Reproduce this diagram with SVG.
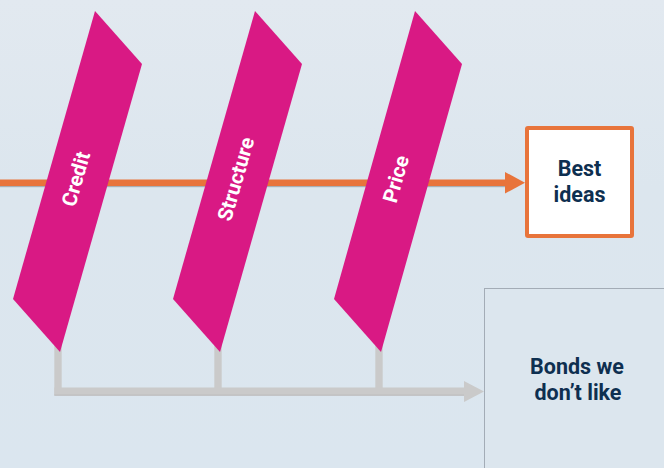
<svg xmlns="http://www.w3.org/2000/svg" width="664" height="468" viewBox="0 0 664 468">
  <defs>
    <linearGradient id="bg" x1="0" y1="0" x2="0" y2="1">
      <stop offset="0" stop-color="#e2e9f0"/>
      <stop offset="0.4" stop-color="#dce6ee"/>
      <stop offset="1" stop-color="#dbe6ef"/>
    </linearGradient>
  </defs>
  <style>
    .band { fill: #d91984; }
    .lbl { font-family: Roboto, "Liberation Sans", sans-serif; font-weight: bold; font-size: 20.5px; fill: #ffffff; text-anchor: middle; dominant-baseline: central; }
    .ttl { font-family: Roboto, "Liberation Sans", sans-serif; font-weight: bold; font-size: 21.5px; fill: #0e2f50; text-anchor: middle; }
    .grey { fill: #cacaca; }
    .orange { fill: #e8743b; }
  </style>
  <rect x="0" y="0" width="664" height="468" fill="url(#bg)"/>

  <g id="connectors">
    <rect x="0" y="186" width="505" height="1.2" fill="#a9aeb3"/>
    <rect class="orange" x="0" y="179.5" width="506" height="6.5"/>
    <polygon class="orange" points="505,172 525,182.7 505,193.5"/>
    <rect class="grey" x="54.3" y="330" width="7.4" height="65"/>
    <rect class="grey" x="214.3" y="330" width="7.4" height="65"/>
    <rect class="grey" x="375.3" y="330" width="7.4" height="65"/>
    <rect class="grey" x="54.3" y="387.5" width="410" height="8"/>
    <rect x="54.3" y="394.5" width="410" height="1.2" fill="#bdbdbd"/>
    <polygon class="grey" points="464,381 484,391.5 464,402"/>
  </g>

  <g id="credit">
    <polygon class="band" points="95,11 142,64 60,352 13,299"/>
    <text class="lbl" transform="translate(76,179) rotate(-74)">Credit</text>
  </g>
  <g id="structure">
    <polygon class="band" points="255,11 302,64 220,352 173,299"/>
    <text class="lbl" transform="translate(236,179) rotate(-74)">Structure</text>
  </g>
  <g id="price">
    <polygon class="band" points="415,11 462,64 381,352 334,299"/>
    <text class="lbl" transform="translate(396,179) rotate(-74)">Price</text>
  </g>

  <g id="best-ideas">
    <rect x="527" y="128" width="105" height="108" rx="1" fill="#ffffff" stroke="#e8743b" stroke-width="4"/>
    <text class="ttl" x="579.5" y="176">Best</text>
    <text class="ttl" x="579.5" y="202">ideas</text>
  </g>

  <g id="bonds-we-dont-like">
    <rect x="484.5" y="288.5" width="185" height="190" fill="#dce6ee" stroke="#a3acb6" stroke-width="1"/>
    <text class="ttl" x="577" y="374">Bonds we</text>
    <text class="ttl" x="578" y="400">don’t like</text>
  </g>
</svg>
